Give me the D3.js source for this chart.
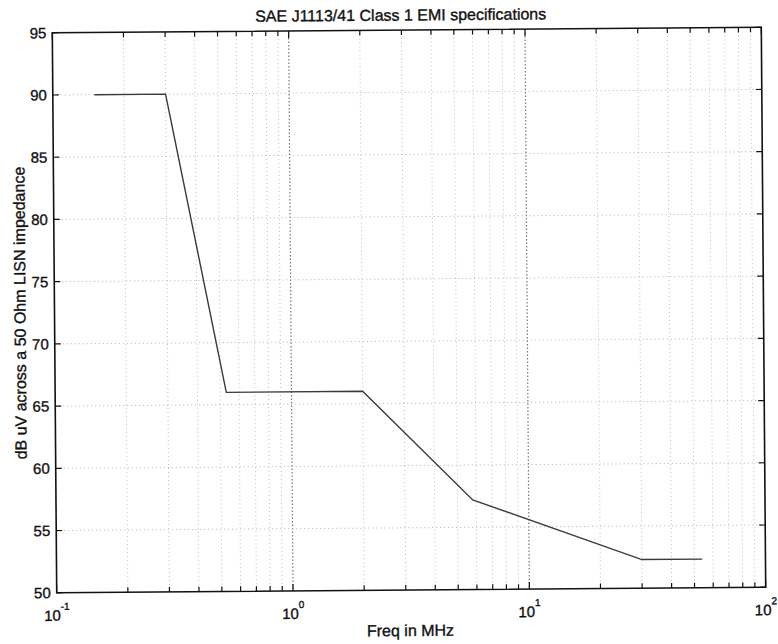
<!DOCTYPE html>
<html>
<head>
<meta charset="utf-8">
<script src="https://cdn.jsdelivr.net/npm/d3@7"></script>
<style>
  body { margin: 0; background: #fff; }
  text { font-family: "Liberation Sans", Arial, sans-serif; fill: #111; }
</style>
</head>
<body>
<div id="chart"></div>
<script>
// limit line corner points
const freqMHz = [0.15, 0.3, 0.53, 2, 5.8, 30, 54];
const levelDb = [90, 90, 66, 66, 57.2, 52.3, 52.3];

const yTicks = [50, 55, 60, 65, 70, 75, 80, 85, 90, 95];
const decades = [0.1, 1, 10, 100];
const decadeExp = ["-1", "0", "1", "2"];

const data = freqMHz.map((f, i) => ({ f: f, v: levelDb[i] }));

const W = 778, H = 644;
const margin = { top: 30, right: 14.5, bottom: 54, left: 54.5 },
    width = W - margin.left - margin.right,
    height = H - margin.top - margin.bottom;

const root = d3.select("#chart")
    .append("svg")
    .attr("width", W)
    .attr("height", H)
    .append("g")
    .attr("transform", "rotate(-0.45, 409, 310)");

const svg = root.append("g")
    .attr("transform", `translate(${margin.left},${margin.top})`);

const xScale = d3.scaleLog()
    .domain([0.1, 100])
    .range([0, width]);

const yScale = d3.scaleLinear()
    .domain([50, 95])
    .range([height, 0]);

// minor positions 2..9 in each decade
const minor = [];
[0.1, 1, 10].forEach(d => {
    for (let k = 2; k <= 9; k++) minor.push(d * k);
});

// grid
svg.append("g").selectAll("line")
    .data(minor)
    .join("line")
    .attr("x1", d => xScale(d)).attr("x2", d => xScale(d))
    .attr("y1", 0).attr("y2", height)
    .attr("stroke", "#bdbdbd")
    .attr("stroke-width", 1)
    .attr("stroke-dasharray", "1,3");

svg.append("g").selectAll("line")
    .data([1, 10])
    .join("line")
    .attr("x1", d => xScale(d)).attr("x2", d => xScale(d))
    .attr("y1", 0).attr("y2", height)
    .attr("stroke", "#777")
    .attr("stroke-width", 1.2)
    .attr("stroke-dasharray", "1.5,2");

svg.append("g").selectAll("line")
    .data(yTicks.slice(1, -1))
    .join("line")
    .attr("x1", 0).attr("x2", width)
    .attr("y1", d => yScale(d)).attr("y2", d => yScale(d))
    .attr("stroke", "#b0b0b0")
    .attr("stroke-width", 1)
    .attr("stroke-dasharray", "1,3");

// limit line
const line = d3.line()
    .x(d => xScale(d.f))
    .y(d => yScale(d.v));

svg.append("path")
    .datum(data)
    .attr("d", line)
    .attr("fill", "none")
    .attr("stroke", "#3a3a3a")
    .attr("stroke-width", 1.4);

// inward ticks on all four sides
const tickG = svg.append("g").attr("stroke", "#111").attr("stroke-width", 1.2);
const xAll = decades.concat(minor);
xAll.forEach(d => {
    const len = decades.includes(d) ? 7 : 5;
    tickG.append("line")
        .attr("x1", xScale(d)).attr("x2", xScale(d))
        .attr("y1", height).attr("y2", height - len);
    tickG.append("line")
        .attr("x1", xScale(d)).attr("x2", xScale(d))
        .attr("y1", 0).attr("y2", len);
});
yTicks.forEach(d => {
    tickG.append("line")
        .attr("x1", 0).attr("x2", 6)
        .attr("y1", yScale(d)).attr("y2", yScale(d));
    tickG.append("line")
        .attr("x1", width).attr("x2", width - 6)
        .attr("y1", yScale(d)).attr("y2", yScale(d));
});

// frame
svg.append("rect")
    .attr("width", width)
    .attr("height", height)
    .attr("fill", "none")
    .attr("stroke", "#111")
    .attr("stroke-width", 1.6);

// y tick labels
svg.append("g").selectAll("text")
    .data(yTicks)
    .join("text")
    .attr("x", -6)
    .attr("y", d => yScale(d))
    .attr("dy", "0.36em")
    .attr("text-anchor", "end")
    .style("font-size", "15px")
    .style("stroke", "#111").style("stroke-width", 0.35)
    .text(d => d);

// x tick labels: 10 with superscript exponent
const xl = svg.append("g").selectAll("text")
    .data(decades)
    .join("text")
    .attr("x", d => xScale(d))
    .attr("y", height + 28)
    .attr("text-anchor", "middle")
    .style("font-size", "15px")
    .style("stroke", "#111").style("stroke-width", 0.35);
xl.append("tspan").text("10");
xl.append("tspan")
    .attr("dy", -11)
    .style("font-size", "10px")
    .text((d, i) => decadeExp[i]);

// titles
svg.append("text")
    .attr("x", width / 2 - 6)
    .attr("y", -9.5)
    .attr("text-anchor", "middle")
    .style("font-size", "16px")
    .style("stroke", "#111").style("stroke-width", 0.35)
    .text("SAE J1113/41 Class 1 EMI specifications");

svg.append("text")
    .attr("x", width / 2 - 1)
    .attr("y", height + 46)
    .attr("text-anchor", "middle")
    .style("font-size", "16px")
    .style("stroke", "#111").style("stroke-width", 0.35)
    .text("Freq in MHz");

svg.append("text")
    .attr("transform", "rotate(-90)")
    .attr("x", -height / 2)
    .attr("y", -29)
    .attr("text-anchor", "middle")
    .style("font-size", "16px")
    .style("stroke", "#111").style("stroke-width", 0.35)
    .text("dB uV across a 50 Ohm LISN impedance");
</script>
</body>
</html>
